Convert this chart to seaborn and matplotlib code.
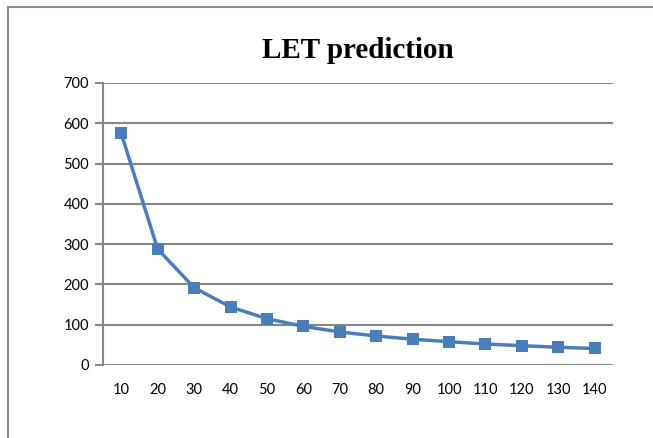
import pandas as pd
import matplotlib.pyplot as plt
import seaborn as sns
from matplotlib.patches import Rectangle

# Data
x_labels = ['10', '20', '30', '40', '50', '60', '70', '80', '90', '100', '110', '120', '130', '140']
let_values = [575, 288, 192, 144, 115, 96, 82, 72, 64, 58, 52, 48, 44, 41]

df = pd.DataFrame({'pos': range(len(x_labels)), 'let': let_values})

sns.set_style('white')
plt.rcParams['font.family'] = ['Lato', 'DejaVu Sans']
plt.rcParams['text.color'] = 'black'
plt.rcParams['xtick.color'] = 'black'
plt.rcParams['ytick.color'] = 'black'

fig = plt.figure(figsize=(6.53, 4.38), dpi=100)
ax = fig.add_axes([103 / 653, 1 - 365 / 438, 510 / 653, 282 / 438])

sns.lineplot(data=df, x='pos', y='let', ax=ax, color='#4A7EBB', linewidth=2.5,
             marker='s', markersize=9, markeredgewidth=0, zorder=3)

ax.set_xlim(-0.5, len(x_labels) - 0.5)
ax.set_ylim(0, 700)
ax.set_yticks(range(0, 701, 100))
ax.set_xticks(range(len(x_labels)))
ax.set_xticklabels(x_labels)
ax.set_xlabel('')
ax.set_ylabel('')

grid_col = '#868686'
ax.grid(axis='y', color=grid_col, linewidth=1.5)
ax.grid(axis='x', visible=False)
ax.set_axisbelow(True)
for s in ['top', 'right', 'bottom']:
    ax.spines[s].set_visible(False)
ax.spines['left'].set_color(grid_col)
ax.spines['left'].set_linewidth(1.5)

ax.tick_params(axis='y', length=6, width=1.5, color=grid_col, direction='out',
               labelsize=10.5, labelcolor='black', pad=4, left=True)
ax.tick_params(axis='x', length=0, labelsize=10.5, labelcolor='black', pad=13)

ax.set_title('LET prediction', fontfamily='Liberation Serif', fontweight='bold',
             fontsize=21, color='black', pad=18)

# chart border like the spreadsheet frame
fig.patches.append(Rectangle((8 / 653, -0.1), 1.2, 1.1 - 7 / 438, transform=fig.transFigure,
                             fill=False, edgecolor='#8c8c8c', linewidth=1.5))

plt.savefig('out.png', dpi=100)
